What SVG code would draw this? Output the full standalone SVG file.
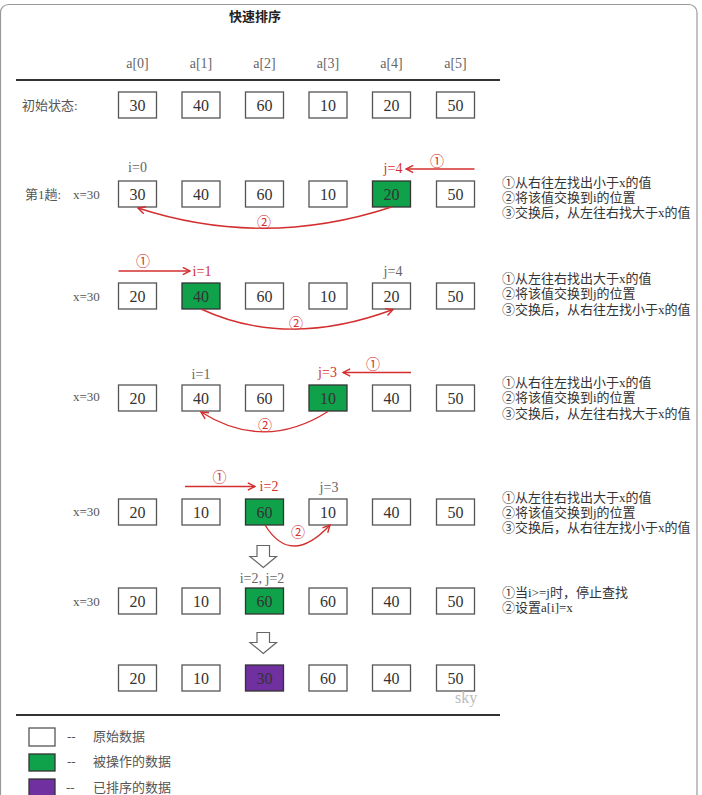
<svg xmlns="http://www.w3.org/2000/svg" width="702" height="795" viewBox="0 0 702 795">
<style>
.t{font-family:"Liberation Serif","Noto Sans CJK SC",serif;}
.box{fill:#fff;stroke:#555;stroke-width:1.3}
.g{fill:#10a14b;stroke:#333;stroke-width:1.3}
.p{fill:#7030a0;stroke:#333;stroke-width:1.3}
.v{font-family:"Liberation Serif","Noto Sans CJK SC",serif;font-size:16px;fill:#333;text-anchor:middle}
.hd{font-family:"Liberation Serif","Noto Sans CJK SC",serif;font-size:14px;fill:#666;text-anchor:middle}
.lbl{font-family:"Liberation Serif","Noto Sans CJK SC",serif;font-size:13px;fill:#555}
.ptr{font-family:"Liberation Serif","Noto Sans CJK SC",serif;font-size:14px;fill:#666;text-anchor:middle}
.rp{font-family:"Liberation Serif","Noto Sans CJK SC",serif;font-size:14px;fill:#d42f2f;text-anchor:middle}
.note{font-family:"Liberation Serif","Noto Sans CJK SC",serif;font-size:13px;fill:#333}
.ra{fill:none;stroke:#d42f2f;stroke-width:1.4;marker-end:url(#ah)}
.blk{fill:#fff;stroke:#666;stroke-width:1.2}
</style>
<defs>
<marker id="ah" viewBox="0 0 10 10" refX="9" refY="5" markerWidth="9" markerHeight="9" orient="auto" markerUnits="userSpaceOnUse">
<path d="M1,1 L9,5 L1,9" fill="none" stroke="#d42f2f" stroke-width="1.6"/>
</marker>
</defs>
<rect x="0.5" y="4.5" width="696.5" height="800" rx="8" fill="#fff" stroke="#999" stroke-width="1.2"/>
<g id="title"><text class="t" x="255" y="21" font-size="13" font-weight="bold" text-anchor="middle" fill="#222">快速排序</text></g>
<g id="headers">
<text class="hd" x="137.5" y="68">a[0]</text>
<text class="hd" x="201" y="68">a[1]</text>
<text class="hd" x="264.5" y="68">a[2]</text>
<text class="hd" x="328" y="68">a[3]</text>
<text class="hd" x="391.5" y="68">a[4]</text>
<text class="hd" x="455.5" y="68">a[5]</text>
</g>
<line x1="16" y1="80" x2="500" y2="80" stroke="#333" stroke-width="2"/>
<g id="row0">
<text class="lbl" x="22" y="109.5">初始状态:</text>
<rect class="box" x="118.5" y="92" width="38" height="26"/><text class="v" x="137.5" y="110.5">30</text>
<rect class="box" x="182" y="92" width="38" height="26"/><text class="v" x="201" y="110.5">40</text>
<rect class="box" x="245.5" y="92" width="38" height="26"/><text class="v" x="264.5" y="110.5">60</text>
<rect class="box" x="309" y="92" width="38" height="26"/><text class="v" x="328" y="110.5">10</text>
<rect class="box" x="372.5" y="92" width="38" height="26"/><text class="v" x="391.5" y="110.5">20</text>
<rect class="box" x="436.5" y="92" width="38" height="26"/><text class="v" x="455.5" y="110.5">50</text>
</g>
<g id="row1">
<text class="lbl" x="25" y="198.5">第1趟:</text>
<text class="lbl" x="73" y="198.5">x=30</text>
<text class="ptr" x="137.5" y="172">i=0</text>
<text class="rp" x="393" y="173">j=4</text>
<text class="rp" x="437" y="166">①</text>
<rect class="box" x="118.5" y="181" width="38" height="26"/><text class="v" x="137.5" y="199.5">30</text>
<rect class="box" x="182" y="181" width="38" height="26"/><text class="v" x="201" y="199.5">40</text>
<rect class="box" x="245.5" y="181" width="38" height="26"/><text class="v" x="264.5" y="199.5">60</text>
<rect class="box" x="309" y="181" width="38" height="26"/><text class="v" x="328" y="199.5">10</text>
<rect class="g" x="372.5" y="181" width="38" height="26"/><text class="v" x="391.5" y="199.5">20</text>
<rect class="box" x="436.5" y="181" width="38" height="26"/><text class="v" x="455.5" y="199.5">50</text>
<text class="rp" x="264" y="227">②</text>
<text class="note" x="502" y="186.5">①从右往左找出小于x的值</text>
<text class="note" x="502" y="201.5">②将该值交换到i的位置</text>
<text class="note" x="502" y="216.5">③交换后，从左往右找大于x的值</text>
</g>
<g id="row2">
<text class="lbl" x="73" y="300.5">x=30</text>
<text class="rp" x="143" y="266">①</text>
<text class="rp" x="202" y="276">i=1</text>
<text class="ptr" x="393" y="276">j=4</text>
<rect class="box" x="118.5" y="283" width="38" height="26"/><text class="v" x="137.5" y="301.5">20</text>
<rect class="g" x="182" y="283" width="38" height="26"/><text class="v" x="201" y="301.5">40</text>
<rect class="box" x="245.5" y="283" width="38" height="26"/><text class="v" x="264.5" y="301.5">60</text>
<rect class="box" x="309" y="283" width="38" height="26"/><text class="v" x="328" y="301.5">10</text>
<rect class="box" x="372.5" y="283" width="38" height="26"/><text class="v" x="391.5" y="301.5">20</text>
<rect class="box" x="436.5" y="283" width="38" height="26"/><text class="v" x="455.5" y="301.5">50</text>
<text class="rp" x="296" y="328">②</text>
<text class="note" x="502" y="283">①从左往右找出大于x的值</text>
<text class="note" x="502" y="298">②将该值交换到j的位置</text>
<text class="note" x="502" y="313.5">③交换后，从右往左找小于x的值</text>
</g>
<g id="row3">
<text class="lbl" x="73" y="401">x=30</text>
<text class="ptr" x="201" y="379">i=1</text>
<text class="rp" x="327.5" y="377">j=3</text>
<text class="rp" x="373" y="369">①</text>
<rect class="box" x="118.5" y="385" width="38" height="26"/><text class="v" x="137.5" y="403.5">20</text>
<rect class="box" x="182" y="385" width="38" height="26"/><text class="v" x="201" y="403.5">40</text>
<rect class="box" x="245.5" y="385" width="38" height="26"/><text class="v" x="264.5" y="403.5">60</text>
<rect class="g" x="309" y="385" width="38" height="26"/><text class="v" x="328" y="403.5">10</text>
<rect class="box" x="372.5" y="385" width="38" height="26"/><text class="v" x="391.5" y="403.5">40</text>
<rect class="box" x="436.5" y="385" width="38" height="26"/><text class="v" x="455.5" y="403.5">50</text>
<text class="rp" x="265" y="430">②</text>
<text class="note" x="502" y="387">①从右往左找出小于x的值</text>
<text class="note" x="502" y="402">②将该值交换到i的位置</text>
<text class="note" x="502" y="417.5">③交换后，从左往右找大于x的值</text>
</g>
<g id="row4">
<text class="lbl" x="73" y="516">x=30</text>
<text class="rp" x="219.5" y="482">①</text>
<text class="rp" x="269" y="491">i=2</text>
<text class="ptr" x="329" y="492">j=3</text>
<rect class="box" x="118.5" y="499" width="38" height="26"/><text class="v" x="137.5" y="517.5">20</text>
<rect class="box" x="182" y="499" width="38" height="26"/><text class="v" x="201" y="517.5">10</text>
<rect class="g" x="245.5" y="499" width="38" height="26"/><text class="v" x="264.5" y="517.5">60</text>
<rect class="box" x="309" y="499" width="38" height="26"/><text class="v" x="328" y="517.5">10</text>
<rect class="box" x="372.5" y="499" width="38" height="26"/><text class="v" x="391.5" y="517.5">40</text>
<rect class="box" x="436.5" y="499" width="38" height="26"/><text class="v" x="455.5" y="517.5">50</text>
<text class="rp" x="298" y="537">②</text>
<text class="note" x="502" y="502">①从左往右找出大于x的值</text>
<text class="note" x="502" y="516.5">②将该值交换到j的位置</text>
<text class="note" x="502" y="531.5">③交换后，从右往左找小于x的值</text>
</g>
<g id="down1"><path class="blk" d="M257,545.5 H269.5 V556.5 H276.5 L263.3,567.5 L250,556.5 H257 Z"/></g>
<g id="row5">
<text class="ptr" x="262" y="583">i=2, j=2</text>
<text class="lbl" x="73" y="606">x=30</text>
<rect class="box" x="118.5" y="588" width="38" height="26"/><text class="v" x="137.5" y="606.5">20</text>
<rect class="box" x="182" y="588" width="38" height="26"/><text class="v" x="201" y="606.5">10</text>
<rect class="g" x="245.5" y="588" width="38" height="26"/><text class="v" x="264.5" y="606.5">60</text>
<rect class="box" x="309" y="588" width="38" height="26"/><text class="v" x="328" y="606.5">60</text>
<rect class="box" x="372.5" y="588" width="38" height="26"/><text class="v" x="391.5" y="606.5">40</text>
<rect class="box" x="436.5" y="588" width="38" height="26"/><text class="v" x="455.5" y="606.5">50</text>
<text class="note" x="502" y="597">①当i&gt;=j时，停止查找</text>
<text class="note" x="502" y="611.5">②设置a[i]=x</text>
</g>
<g id="down2"><path class="blk" d="M257,632.5 H269.5 V642.5 H276.5 L263.3,653.5 L250,642.5 H257 Z"/></g>
<g id="row6">
<rect class="box" x="118.5" y="665" width="38" height="26"/><text class="v" x="137.5" y="683.5">20</text>
<rect class="box" x="182" y="665" width="38" height="26"/><text class="v" x="201" y="683.5">10</text>
<rect class="p" x="245.5" y="665" width="38" height="26"/><text class="v" x="264.5" y="683.5">30</text>
<rect class="box" x="309" y="665" width="38" height="26"/><text class="v" x="328" y="683.5">60</text>
<rect class="box" x="372.5" y="665" width="38" height="26"/><text class="v" x="391.5" y="683.5">40</text>
<rect class="box" x="436.5" y="665" width="38" height="26"/><text class="v" x="455.5" y="683.5">50</text>
<text class="t" x="455" y="703" font-size="16" fill="#bbb">sky</text>
</g>
<line x1="16" y1="715" x2="500" y2="715" stroke="#333" stroke-width="2"/>
<g id="legend">
<rect class="box" x="29" y="728" width="26" height="18"/>
<text class="lbl" x="67" y="741" fill="#888">--</text>
<text class="lbl" x="93" y="741">原始数据</text>
<rect class="g" x="29" y="754" width="26" height="17"/>
<text class="lbl" x="67" y="766" fill="#888">--</text>
<text class="lbl" x="93" y="766">被操作的数据</text>
<rect class="p" x="29" y="779" width="26" height="20"/>
<text class="lbl" x="66" y="792" fill="#888">--</text>
<text class="lbl" x="93" y="792">已排序的数据</text>
</g>
<g id="connectors">
<line class="ra" x1="474.5" y1="169" x2="406" y2="169"/>
<path class="ra" d="M391.5,207 Q264,249 138,208"/>
<line class="ra" x1="118.5" y1="271" x2="190" y2="271"/>
<path class="ra" d="M201,309 Q287,349 393,309.5"/>
<line class="ra" x1="411" y1="372.5" x2="343" y2="372.5"/>
<path class="ra" d="M328,411.5 Q264,452 201,412"/>
<line class="ra" x1="185" y1="486.5" x2="255" y2="486.5"/>
<path class="ra" d="M265,525 Q291,567 330,525"/>
</g>
</svg>
